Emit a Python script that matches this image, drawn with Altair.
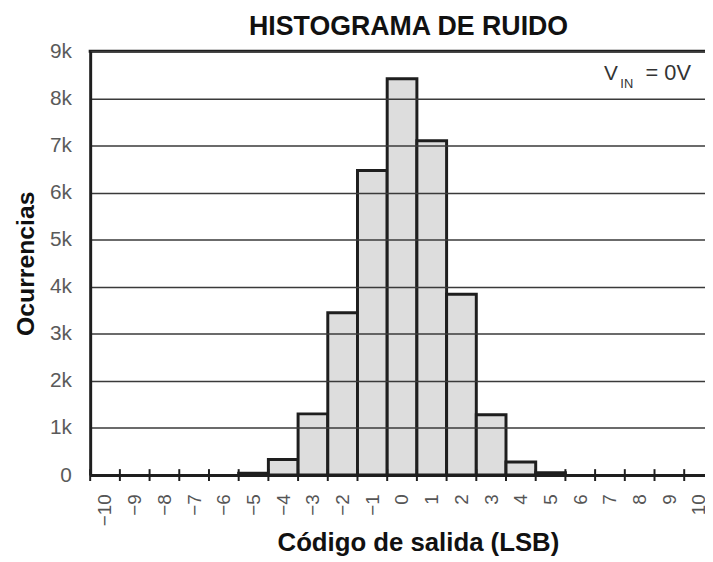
import altair as alt
import pandas as pd

# ---- data ----
codes = [-5, -4, -3, -2, -1, 0, 1, 2, 3, 4, 5]
counts = [40, 330, 1300, 3450, 6470, 8420, 7100, 3840, 1280, 280, 50]
label_codes = list(range(-10, 11))
tick_edges = [c - 0.5 for c in range(-10, 12)]
y_ticks = [0, 1000, 2000, 3000, 4000, 5000, 6000, 7000, 8000, 9000]
annot_text = ["V", "IN", "= 0V"]
annot_x = [6.8, 7.35, 8.2]
annot_y = [8390, 8390, 8390]
annot_size = [21, 13, 22]
annot_dy = [0, 8, 0]
title_text = ["HISTOGRAMA DE RUIDO"]
title_x = [0.22]
title_y = [9357]

FONT = "Liberation Sans, Arial, sans-serif"
X_MIN, X_MAX = -10.5, 10.2
Y_MIN, Y_MAX = 0, 9000

bars_df = pd.DataFrame({"code": codes, "count": counts})
bars_df["x0"] = bars_df["code"] - 0.5
bars_df["x1"] = bars_df["code"] + 0.5

xscale = alt.Scale(domain=[X_MIN, X_MAX], nice=False, zero=False)
yscale = alt.Scale(domain=[Y_MIN, Y_MAX], nice=False)

label_expr = "datum.value == 0 ? '0' : format(datum.value / 1000, 'd') + 'k'"

xaxis = alt.Axis(values=label_codes, format="d", labelAngle=270,
                 labelOverlap=False, labelSeparation=0,
                 ticks=False, domain=True,
                 domainColor="#1e1e1e", domainWidth=3, grid=False,
                 labelFont=FONT, labelFontSize=19,
                 labelColor="#555555", labelPadding=19,
                 labelBound=False, labelFlush=False,
                 title="Código de salida (LSB)",
                 titleFont=FONT, titleFontSize=26,
                 titleFontWeight="bold", titleColor="#111111",
                 titleX=331, titleY=76, titleAlign="center",
                 titleBaseline="alphabetic", zindex=1)
yaxis = alt.Axis(values=y_ticks, labelExpr=label_expr, ticks=False,
                 labelOverlap=False,
                 domain=True, domainColor="#1e1e1e", domainWidth=3,
                 grid=True, gridColor="#3a3a3a", gridWidth=1.5,
                 labelFont=FONT, labelFontSize=21,
                 labelColor="#5a5a5a", labelPadding=19,
                 title="Ocurrencias", titleFont=FONT,
                 titleFontSize=25, titleFontWeight="bold",
                 titleColor="#111111", titleX=-57, titleY=214,
                 titleAngle=270, titleAlign="center",
                 titleBaseline="alphabetic", zindex=1)

bars = alt.Chart(bars_df).mark_rect(
    fill="#dddddd", stroke="#1e1e1e", strokeWidth=3
).encode(
    x=alt.X("x0:Q", scale=xscale, axis=xaxis),
    x2="x1:Q",
    y=alt.Y("count:Q", scale=yscale, axis=yaxis),
)

ticks = alt.Chart(pd.DataFrame({"edge": tick_edges, "zero": [0] * len(tick_edges)})).mark_rule(
    color="#1e1e1e", strokeWidth=2, yOffset=-6, y2Offset=6
).encode(
    x=alt.X("edge:Q", scale=xscale, axis=xaxis),
    y=alt.Y("zero:Q", scale=yscale, axis=yaxis),
    y2="zero:Q",
)

top_line = alt.Chart(pd.DataFrame({"top": [Y_MAX]})).mark_rule(
    color="#1e1e1e", strokeWidth=3
).encode(
    y=alt.Y("top:Q", scale=yscale, axis=yaxis),
    x=alt.value(-1.5), x2=alt.value(640),
)

annot_df = pd.DataFrame({"t": annot_text, "x": annot_x, "y": annot_y})
annots = []
for i in range(len(annot_text)):
    annots.append(
        alt.Chart(annot_df.iloc[[i]]).mark_text(
            font=FONT, fontSize=annot_size[i], color="#333333", align="left",
            baseline="alphabetic", dy=annot_dy[i]
        ).encode(
            x=alt.X("x:Q", scale=xscale, axis=xaxis),
            y=alt.Y("y:Q", scale=yscale, axis=yaxis),
            text="t:N",
        )
    )

title_df = pd.DataFrame({"t": title_text, "x": title_x, "y": title_y})
title_mark = alt.Chart(title_df).mark_text(
    font=FONT, fontSize=27, fontWeight="bold", color="#111111",
    align="center", baseline="alphabetic"
).encode(
    x=alt.X("x:Q", scale=xscale, axis=xaxis),
    y=alt.Y("y:Q", scale=yscale, axis=yaxis),
    text="t:N",
)

chart = alt.layer(bars, ticks, top_line, *annots, title_mark).properties(
    width=621,
    height=428,
    autosize=alt.AutoSizeParams(type="none"),
    padding={"left": 83, "top": 41, "right": 0, "bottom": 85},
).configure_view(stroke=None).configure_axis(
    labelOverlap=False
).configure(background="white")

chart.save("out.html", embed_options={"renderer": "svg", "actions": False})
